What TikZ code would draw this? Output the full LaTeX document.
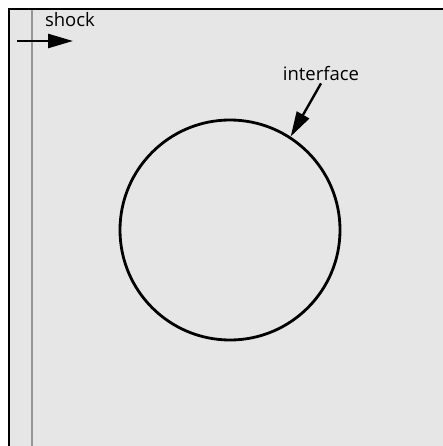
\documentclass[tikz,border=0pt]{standalone}
\usepackage{fontspec}
\setmainfont{Open Sans}
\usetikzlibrary{arrows.meta}
\definecolor{panel}{RGB}{230,230,230}
\definecolor{shockgray}{RGB}{150,150,150}

\begin{document}
\begin{tikzpicture}[x=1pt, y=-1pt, >={Triangle[length=25pt, width=14pt]},
  every node/.style={font=\fontsize{18.5}{21}\selectfont, inner sep=2pt}]
  \useasboundingbox (0,0) rectangle (443,446);
  % domain
  \fill[panel] (9,9) rectangle (443,446);
  \draw[line width=2.6pt] (9,446) -- (9,9) -- (443,9);
  \draw[shockgray, line width=2.6pt] (32,10) -- (32,446);
  % interface
  \node[circle, draw, line width=2.8pt, minimum size=220pt] (bubble) at (230,230) {};
  \node (interface) at (321,74) {interface};
  \draw[->, line width=2.4pt] (interface.south) -- (bubble.57);
  % shock
  \node (shock) at (70,20) {shock};
  \coordinate (start) at (17,41);
  \coordinate (stop) at (73,41);
  \draw[->, line width=2.4pt] (start) -- (stop);
\end{tikzpicture}
\end{document}
